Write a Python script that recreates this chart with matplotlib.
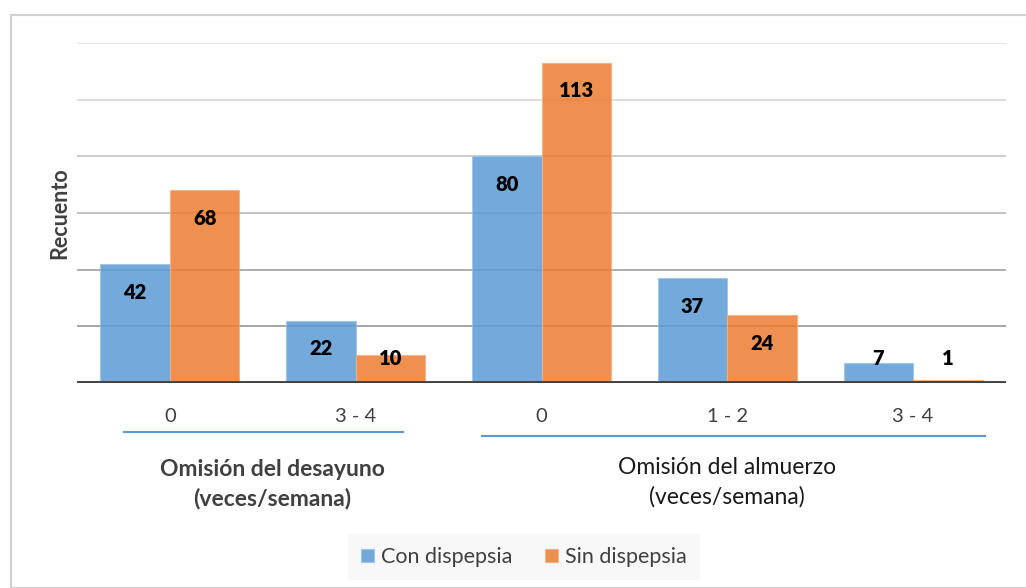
import matplotlib
matplotlib.use('Agg')
import matplotlib.pyplot as plt
import matplotlib.transforms as mtransforms
from matplotlib.patches import Rectangle
import numpy as np

plt.rcParams['font.family'] = ['Lato', 'DejaVu Sans']

# data
categories = ['0', '3 - 4', '0', '1 - 2', '3 - 4']
con_dispepsia = [42, 22, 80, 37, 7]
sin_dispepsia = [68, 10, 113, 24, 1]
series_names = ['Con dispepsia', 'Sin dispepsia']
group_titles = ['Omisión del desayuno\n(veces/semana)', 'Omisión del almuerzo\n(veces/semana)']

blue = '#5B9BD5'
orange = '#ED7D31'

fig = plt.figure(figsize=(10.26, 5.88), dpi=100)
W, H = 1026, 588

# outer chart border
fig.patches.append(Rectangle((10.5 / W, 0), 1.2, 1 - 14.5 / H, transform=fig.transFigure,
                             fill=False, edgecolor='#D0D0D0', linewidth=1.5))

ax = fig.add_axes([77 / W, 1 - 383 / H, (1006 - 77) / W, (383 - 43) / H])
x = np.arange(len(categories))
w = 0.374

# gridlines, getting darker toward the bottom
grid_colors = ['#9E9E9E', '#A8A8A8', '#BDBDBD', '#C8C8C8', '#D9D9D9', '#E6E6E6']
for yv, c in zip(range(20, 121, 20), grid_colors):
    ax.axhline(yv, color=c, linewidth=1.3, zorder=0)

b1 = ax.bar(x - w / 2, con_dispepsia, w, color=blue, alpha=0.85, edgecolor='#9DC3E6',
            linewidth=0.8, label=series_names[0], zorder=2)
b2 = ax.bar(x + w / 2, sin_dispepsia, w, color=orange, alpha=0.85, edgecolor='#F4B183',
            linewidth=0.8, label=series_names[1], zorder=2)

# value labels inside end, clamped for short bars
for bars, vals in ((b1, con_dispepsia), (b2, sin_dispepsia)):
    for rect, v in zip(bars, vals):
        ty = max(v - 9.9, 8.8)
        ax.text(rect.get_x() + rect.get_width() / 2, ty, str(v), ha='center', va='center',
                fontsize=14.5, fontweight='heavy', color='black', zorder=3)

ax.axhline(0, color='#404040', linewidth=3.5, zorder=4)
ax.set_xlim(-0.5, len(categories) - 0.5)
ax.set_ylim(0, 120)
ax.set_yticks([])
ax.set_xticks(x)
ax.set_xticklabels(categories, fontsize=14.5, color='#404040')
ax.tick_params(axis='x', length=0, pad=18)
for s in ax.spines.values():
    s.set_visible(False)

trans = mtransforms.blended_transform_factory(ax.transData, fig.transFigure)
ax.plot([-0.247, 1.255], [1 - 432 / H] * 2, color=blue, linewidth=1.5, transform=trans, clip_on=False)
ax.plot([1.68, 4.387], [1 - 436 / H] * 2, color=blue, linewidth=1.5, transform=trans, clip_on=False)

ax.text(0.55, 1 - 484 / H, group_titles[0], transform=trans, ha='center', va='center',
        fontsize=16.5, fontweight='bold', color='#404040', linespacing=1.45)
ax.text(3.0, 1 - 482 / H, group_titles[1], transform=trans, ha='center', va='center',
        fontsize=16.5, color='#1A1A1A', linespacing=1.45)

fig.text(60 / W, 1 - 213 / H, 'Recuento', rotation=90, ha='center', va='center',
         fontsize=15.5, fontweight='bold', color='#404040')

leg = fig.legend(handles=[b1, b2], loc='center', bbox_to_anchor=(524 / W, 1 - 557 / H),
                 ncol=2, frameon=True, fontsize=15.5, handlelength=0.6, handleheight=0.6,
                 columnspacing=1.5, handletextpad=0.35, borderpad=0.6, borderaxespad=0,
                 fancybox=False)
leg.get_frame().set_facecolor('#F7F7F7')
leg.get_frame().set_edgecolor('none')
for t in leg.get_texts():
    t.set_color('#404040')

fig.savefig('out.png', dpi=100)
